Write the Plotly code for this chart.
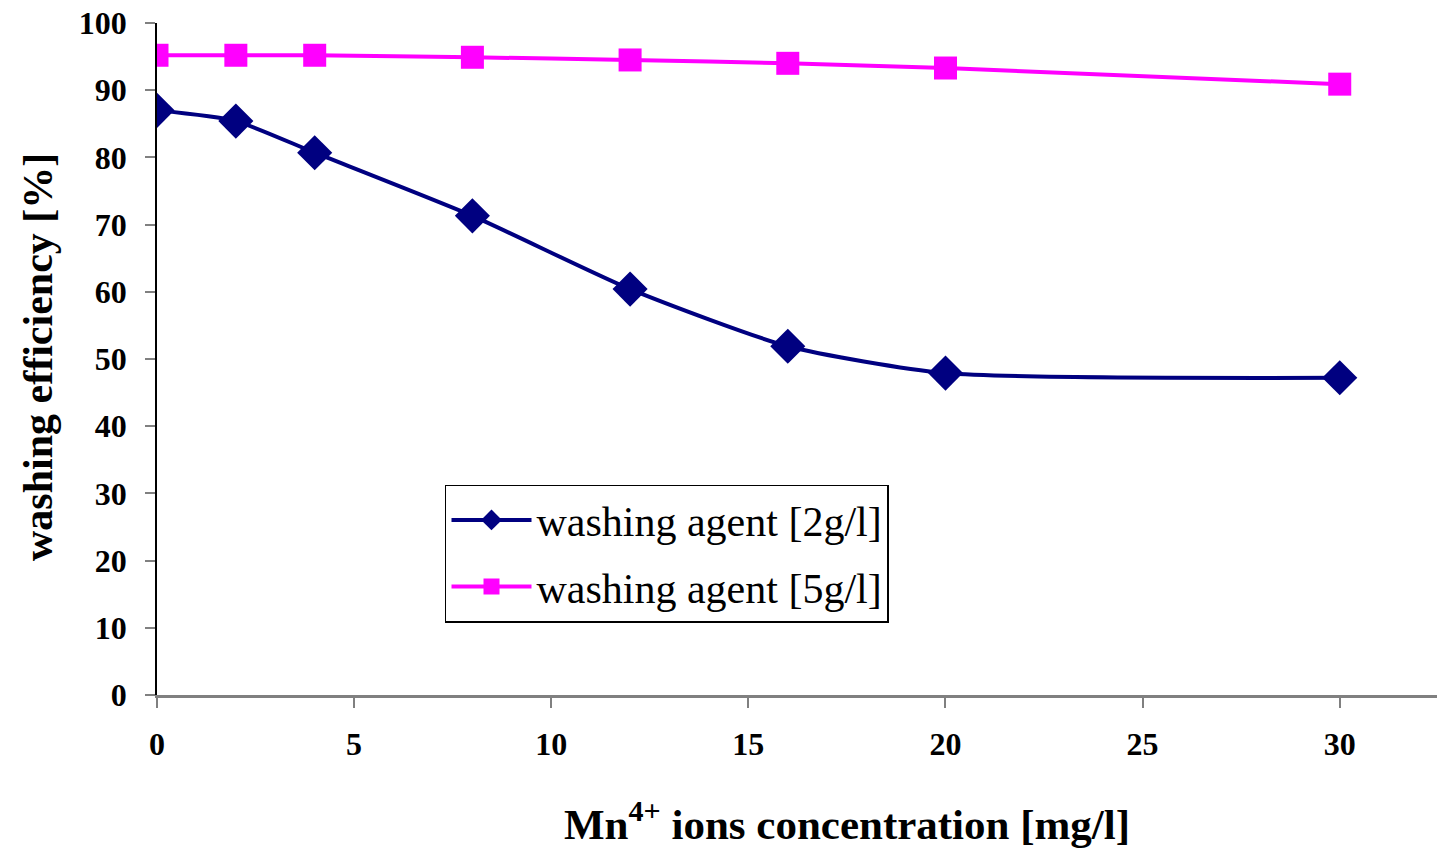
import plotly.graph_objects as go

x_vals = [0, 2, 4, 8, 12, 16, 20, 30]
agent_2gl = [87.0, 85.4, 80.7, 71.3, 60.4, 51.9, 47.9, 47.2]
agent_5gl = [95.2, 95.2, 95.2, 94.9, 94.5, 94.0, 93.3, 90.9]
series_names = ["washing agent [2g/l]", "washing agent [5g/l]"]
x_ticks = [0, 5, 10, 15, 20, 25, 30]
y_ticks = [0, 10, 20, 30, 40, 50, 60, 70, 80, 90, 100]

FONT = "Liberation Serif"

fig = go.Figure()
fig.add_trace(go.Scatter(
    x=x_vals, y=agent_2gl, name=series_names[0], mode="lines+markers",
    legendgroup="g1",
    line=dict(color="#000080", width=4, shape="spline", smoothing=0.6),
    marker=dict(symbol="diamond", size=27, color="#000080"),
))
fig.add_trace(go.Scatter(
    x=x_vals, y=agent_5gl, name=series_names[1], mode="lines+markers",
    legendgroup="g2",
    line=dict(color="#FF00FF", width=4, shape="spline", smoothing=0.6),
    marker=dict(symbol="square", size=23, color="#FF00FF"),
))

fig.update_layout(
    width=1437, height=842,
    margin=dict(l=149, r=0, t=15, b=155),
    paper_bgcolor="white", plot_bgcolor="white",
    font=dict(family=FONT, color="black"),
    showlegend=True,
    legend=dict(
        x=0.2236, y=0.313, xanchor="left", yanchor="top",
        bgcolor="white", bordercolor="black", borderwidth=1.5,
        font=dict(family=FONT, size=42, color="black"),
        tracegroupgap=9, itemwidth=80,
    ),
    xaxis=dict(
        range=[0, 32.67], tickvals=x_ticks, ticks="outside", ticklen=10,
        tickcolor="#808080", tickwidth=1.5, showgrid=False, zeroline=False,
        showline=True, linecolor="#808080", linewidth=2.5, automargin=False,
        tickfont=dict(family=FONT, size=32, color="black", weight="bold"),
        ticklabelstandoff=9, ticklabeloverflow="allow",
    ),
    yaxis=dict(
        range=[0, 100], tickvals=y_ticks, ticks="outside", ticklen=10,
        tickcolor="#808080", tickwidth=1.5, showgrid=False, zeroline=False,
        showline=True, linecolor="black", linewidth=1.5, automargin=False,
        tickfont=dict(family=FONT, size=32, color="black", weight="bold"),
        ticklabelstandoff=12, ticklabeloverflow="allow",
    ),
    annotations=[
        dict(text="Mn<sup>4+</sup> ions concentration [mg/l]", xref="paper", yref="paper",
             x=0.536, y=-0.188, xanchor="center", yanchor="middle", showarrow=False,
             font=dict(family=FONT, size=43, color="black", weight="bold")),
        dict(text="washing efficiency [%]", xref="paper", yref="paper",
             x=-0.0924, y=0.503, xanchor="center", yanchor="middle", showarrow=False,
             textangle=-90,
             font=dict(family=FONT, size=42, color="black", weight="bold")),
    ],
)

fig.write_html("out.html")
